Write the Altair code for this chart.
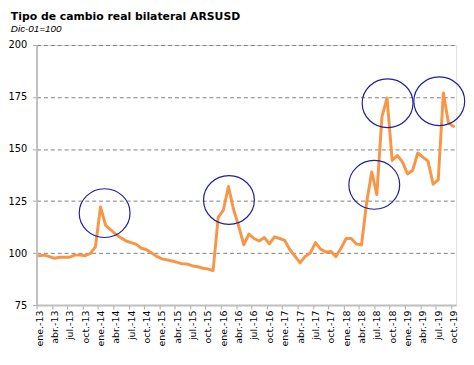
import json
import altair as alt
import pandas as pd

# Monthly real bilateral exchange rate ARS/USD (Dic-01 = 100), ene-13 .. oct-19
VALUES = [
    98.7, 99.0, 98.3, 97.5, 98.0, 98.0, 98.0, 99.0, 99.0, 98.7, 99.8, 103.0,   # 2013
    122.2, 113.3, 111.2, 109.0, 107.3, 105.8, 105.0, 104.2, 102.3, 101.6, 100.0, 98.4,  # 2014
    97.2, 96.7, 96.2, 95.5, 94.8, 94.7, 93.8, 93.4, 92.7, 92.3, 91.6, 117.2,   # 2015
    120.6, 132.0, 121.0, 113.0, 104.0, 109.1, 107.0, 105.8, 107.5, 104.4, 107.8, 107.0,  # 2016
    106.1, 101.6, 98.5, 95.3, 98.4, 100.0, 105.0, 101.9, 100.5, 100.8, 98.3, 102.3,  # 2017
    107.0, 107.0, 104.4, 103.9, 124.2, 139.0, 128.1, 165.6, 174.5, 144.5, 146.9, 143.8,  # 2018
    138.0, 139.8, 148.1, 146.1, 144.2, 133.1, 135.2, 177.0, 162.5, 160.9,  # 2019
]

TICK_LABELS = [
    "ene.-13", "abr.-13", "jul.-13", "oct.-13",
    "ene.-14", "abr.-14", "jul.-14", "oct.-14",
    "ene.-15", "abr.-15", "jul.-15", "oct.-15",
    "ene.-16", "abr.-16", "jul.-16", "oct.-16",
    "ene.-17", "abr.-17", "jul.-17", "oct.-17",
    "ene.-18", "abr.-18", "jul.-18", "oct.-18",
    "ene.-19", "abr.-19", "jul.-19", "oct.-19",
]
Y_TICKS = [75, 100, 125, 150, 175, 200]

# highlight ellipses (month position, index value)
CIRCLE_X = [13.3, 37.6, 66.0, 68.6, 78.7]
CIRCLE_Y = [119.2, 125.5, 132.8, 172.0, 173.0]

TITLE = "Tipo de cambio real bilateral ARSUSD"
SUBTITLE = "Dic-01=100"

df = pd.DataFrame({"pos": [i + 0.5 for i in range(len(VALUES))], "value": VALUES})
circles = pd.DataFrame({"pos": CIRCLE_X, "value": CIRCLE_Y})

label_expr = json.dumps(TICK_LABELS) + "[round(datum.value / 3)]"

x_enc = alt.X(
    "pos:Q",
    scale=alt.Scale(domain=[0, len(VALUES)], nice=False, zero=False),
    axis=alt.Axis(
        values=list(range(0, len(VALUES), 3)),
        tickCount=200,
        labelExpr=label_expr,
        labelAngle=-90,
        labelOffset=2.6,
        labelOverlap=False,
        labelFlush=False,
        labelFont="DejaVu Sans",
        labelFontSize=9.6,
        labelColor="#000000",
        labelPadding=1,
        tickSize=4,
        tickColor="#A6A6A6",
        domainColor="#BFBFBF",
        domainWidth=2,
        grid=False,
        title=None,
    ),
)
y_enc = alt.Y(
    "value:Q",
    scale=alt.Scale(domain=[75, 200], nice=False, zero=False),
    axis=alt.Axis(
        values=Y_TICKS,
        tickCount=50,
        format="d",
        labelFont="DejaVu Sans",
        labelFontSize=10,
        labelColor="#000000",
        labelPadding=6,
        tickSize=4,
        tickColor="#A6A6A6",
        domainColor="#BFBFBF",
        domainWidth=2,
        grid=True,
        gridColor="#7F7F7F",
        gridDash=[4, 3],
        gridWidth=1,
        title=None,
    ),
)

line = alt.Chart(df).mark_line(
    color="#F79646", strokeWidth=3, strokeJoin="round", strokeCap="round"
).encode(x=x_enc, y=y_enc)

ellipse_path = "M -1 0 A 1 0.96 0 1 1 1 0 A 1 0.96 0 1 1 -1 0 Z"
rings = alt.Chart(circles).mark_point(
    shape=ellipse_path, filled=False, size=2663, stroke="#1F1F9F", strokeWidth=1.2, opacity=1
).encode(x="pos:Q", y="value:Q")

chart = (
    alt.layer(line, rings)
    .properties(
        width=426,
        height=264,
        autosize=alt.AutoSizeParams(type="none"),
        padding={"left": 29, "top": 35, "right": 10, "bottom": 42},
        title=alt.TitleParams(
            text=TITLE,
            subtitle=SUBTITLE,
            anchor="start",
            frame="bounds",
            dx=3,
            font="DejaVu Sans",
            fontSize=11,
            fontWeight="bold",
            color="#000000",
            subtitleFont="Liberation Sans",
            subtitleFontSize=10,
            subtitleFontStyle="italic",
            subtitleColor="#000000",
            subtitlePadding=2,
            offset=6,
        ),
    )
    .configure_view(stroke=None)
    .configure(background="white")
)

chart.save("out.html", embed_options={"renderer": "svg", "actions": False})
